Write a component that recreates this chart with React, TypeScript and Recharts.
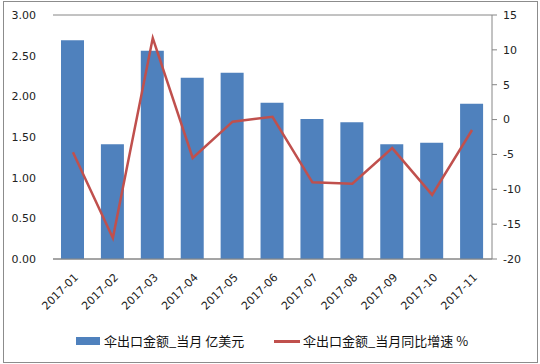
import React from 'react';
import { ComposedChart, Bar, Line, XAxis, YAxis, CartesianGrid, Legend } from 'recharts';

const months = ['2017-01', '2017-02', '2017-03', '2017-04', '2017-05', '2017-06', '2017-07', '2017-08', '2017-09', '2017-10', '2017-11'];
const exportValue = [2.69, 1.41, 2.56, 2.23, 2.29, 1.92, 1.72, 1.68, 1.41, 1.43, 1.91];
const yoyGrowth = [-4.7, -17.0, 11.7, -5.5, -0.3, 0.4, -9.0, -9.2, -4.1, -10.8, -1.5];
const leftTicks = [0, 0.5, 1, 1.5, 2, 2.5, 3];
const rightTicks = [-20, -15, -10, -5, 0, 5, 10, 15];

const barName = '伞出口金额_当月 亿美元';
const lineName = '伞出口金额_当月同比增速 %';

const data = months.map((m, i) => ({ month: m, value: exportValue[i], growth: yoyGrowth[i] }));

const tickFont = { fontFamily: '"DejaVu Sans", Verdana, sans-serif', fontSize: 11, fill: '#222' };
const cjkFont = '"Noto Sans CJK SC", "DejaVu Sans", sans-serif';

function MonthTick(props: any) {
  const { x, y, payload } = props;
  return (
    <text
      x={x + 6}
      y={y + 11}
      textAnchor="end"
      transform={`rotate(-45, ${x + 6}, ${y + 11})`}
      {...tickFont}
    >
      {payload.value}
    </text>
  );
}

function ChartLegend() {
  return (
    <div style={{ position: 'relative', width: 540, height: 20, fontFamily: cjkFont, fontSize: 13, color: '#111' }}>
      <span style={{ position: 'absolute', left: 76, top: 6, width: 24, height: 8, background: '#4f81bd' }} />
      <span style={{ position: 'absolute', left: 104, top: 0, whiteSpace: 'nowrap', lineHeight: '20px' }}>{barName}</span>
      <span style={{ position: 'absolute', left: 274, top: 9, width: 26, height: 2.5, background: '#c0504d' }} />
      <span style={{ position: 'absolute', left: 303, top: 0, whiteSpace: 'nowrap', lineHeight: '20px' }}>{lineName}</span>
    </div>
  );
}

export default function App() {
  return (
    <div style={{ position: 'absolute', left: 0, top: 0, width: 540, height: 364, background: '#fff' }}>
      <div style={{ position: 'absolute', left: 3, top: 1, width: 533, height: 360, border: '1px solid #8c8c8c' }} />
      <ComposedChart
        width={540}
        height={364}
        data={data}
        margin={{ top: 15, right: 0, left: 0, bottom: 10 }}
      >
        <CartesianGrid vertical={false} stroke="#868686" strokeWidth={1} />
        <XAxis
          dataKey="month"
          tick={<MonthTick />}
          tickLine={false}
          axisLine={{ stroke: '#868686' }}
          height={75}
          interval={0}
        />
        <YAxis
          yAxisId="left"
          domain={[0, 3]}
          ticks={leftTicks}
          tickFormatter={(v: number) => v.toFixed(2)}
          axisLine={false}
          tickLine={false}
          width={53}
          tickMargin={11}
          tick={tickFont}
        />
        <YAxis
          yAxisId="right"
          orientation="right"
          domain={[-20, 15]}
          ticks={rightTicks}
          axisLine={{ stroke: '#868686' }}
          tickLine={{ stroke: '#868686' }}
          tickSize={5}
          tickMargin={6}
          width={48}
          tick={{ ...tickFont, textAnchor: 'start' }}
        />
        <Legend verticalAlign="bottom" content={<ChartLegend />} wrapperStyle={{ left: 0, bottom: 13 }} />
        <Bar yAxisId="left" dataKey="value" name={barName} fill="#4f81bd" barSize={23} isAnimationActive={false} />
        <Line
          yAxisId="right"
          dataKey="growth"
          name={lineName}
          stroke="#c0504d"
          strokeWidth={2.5}
          dot={false}
          isAnimationActive={false}
        />
      </ComposedChart>
    </div>
  );
}
